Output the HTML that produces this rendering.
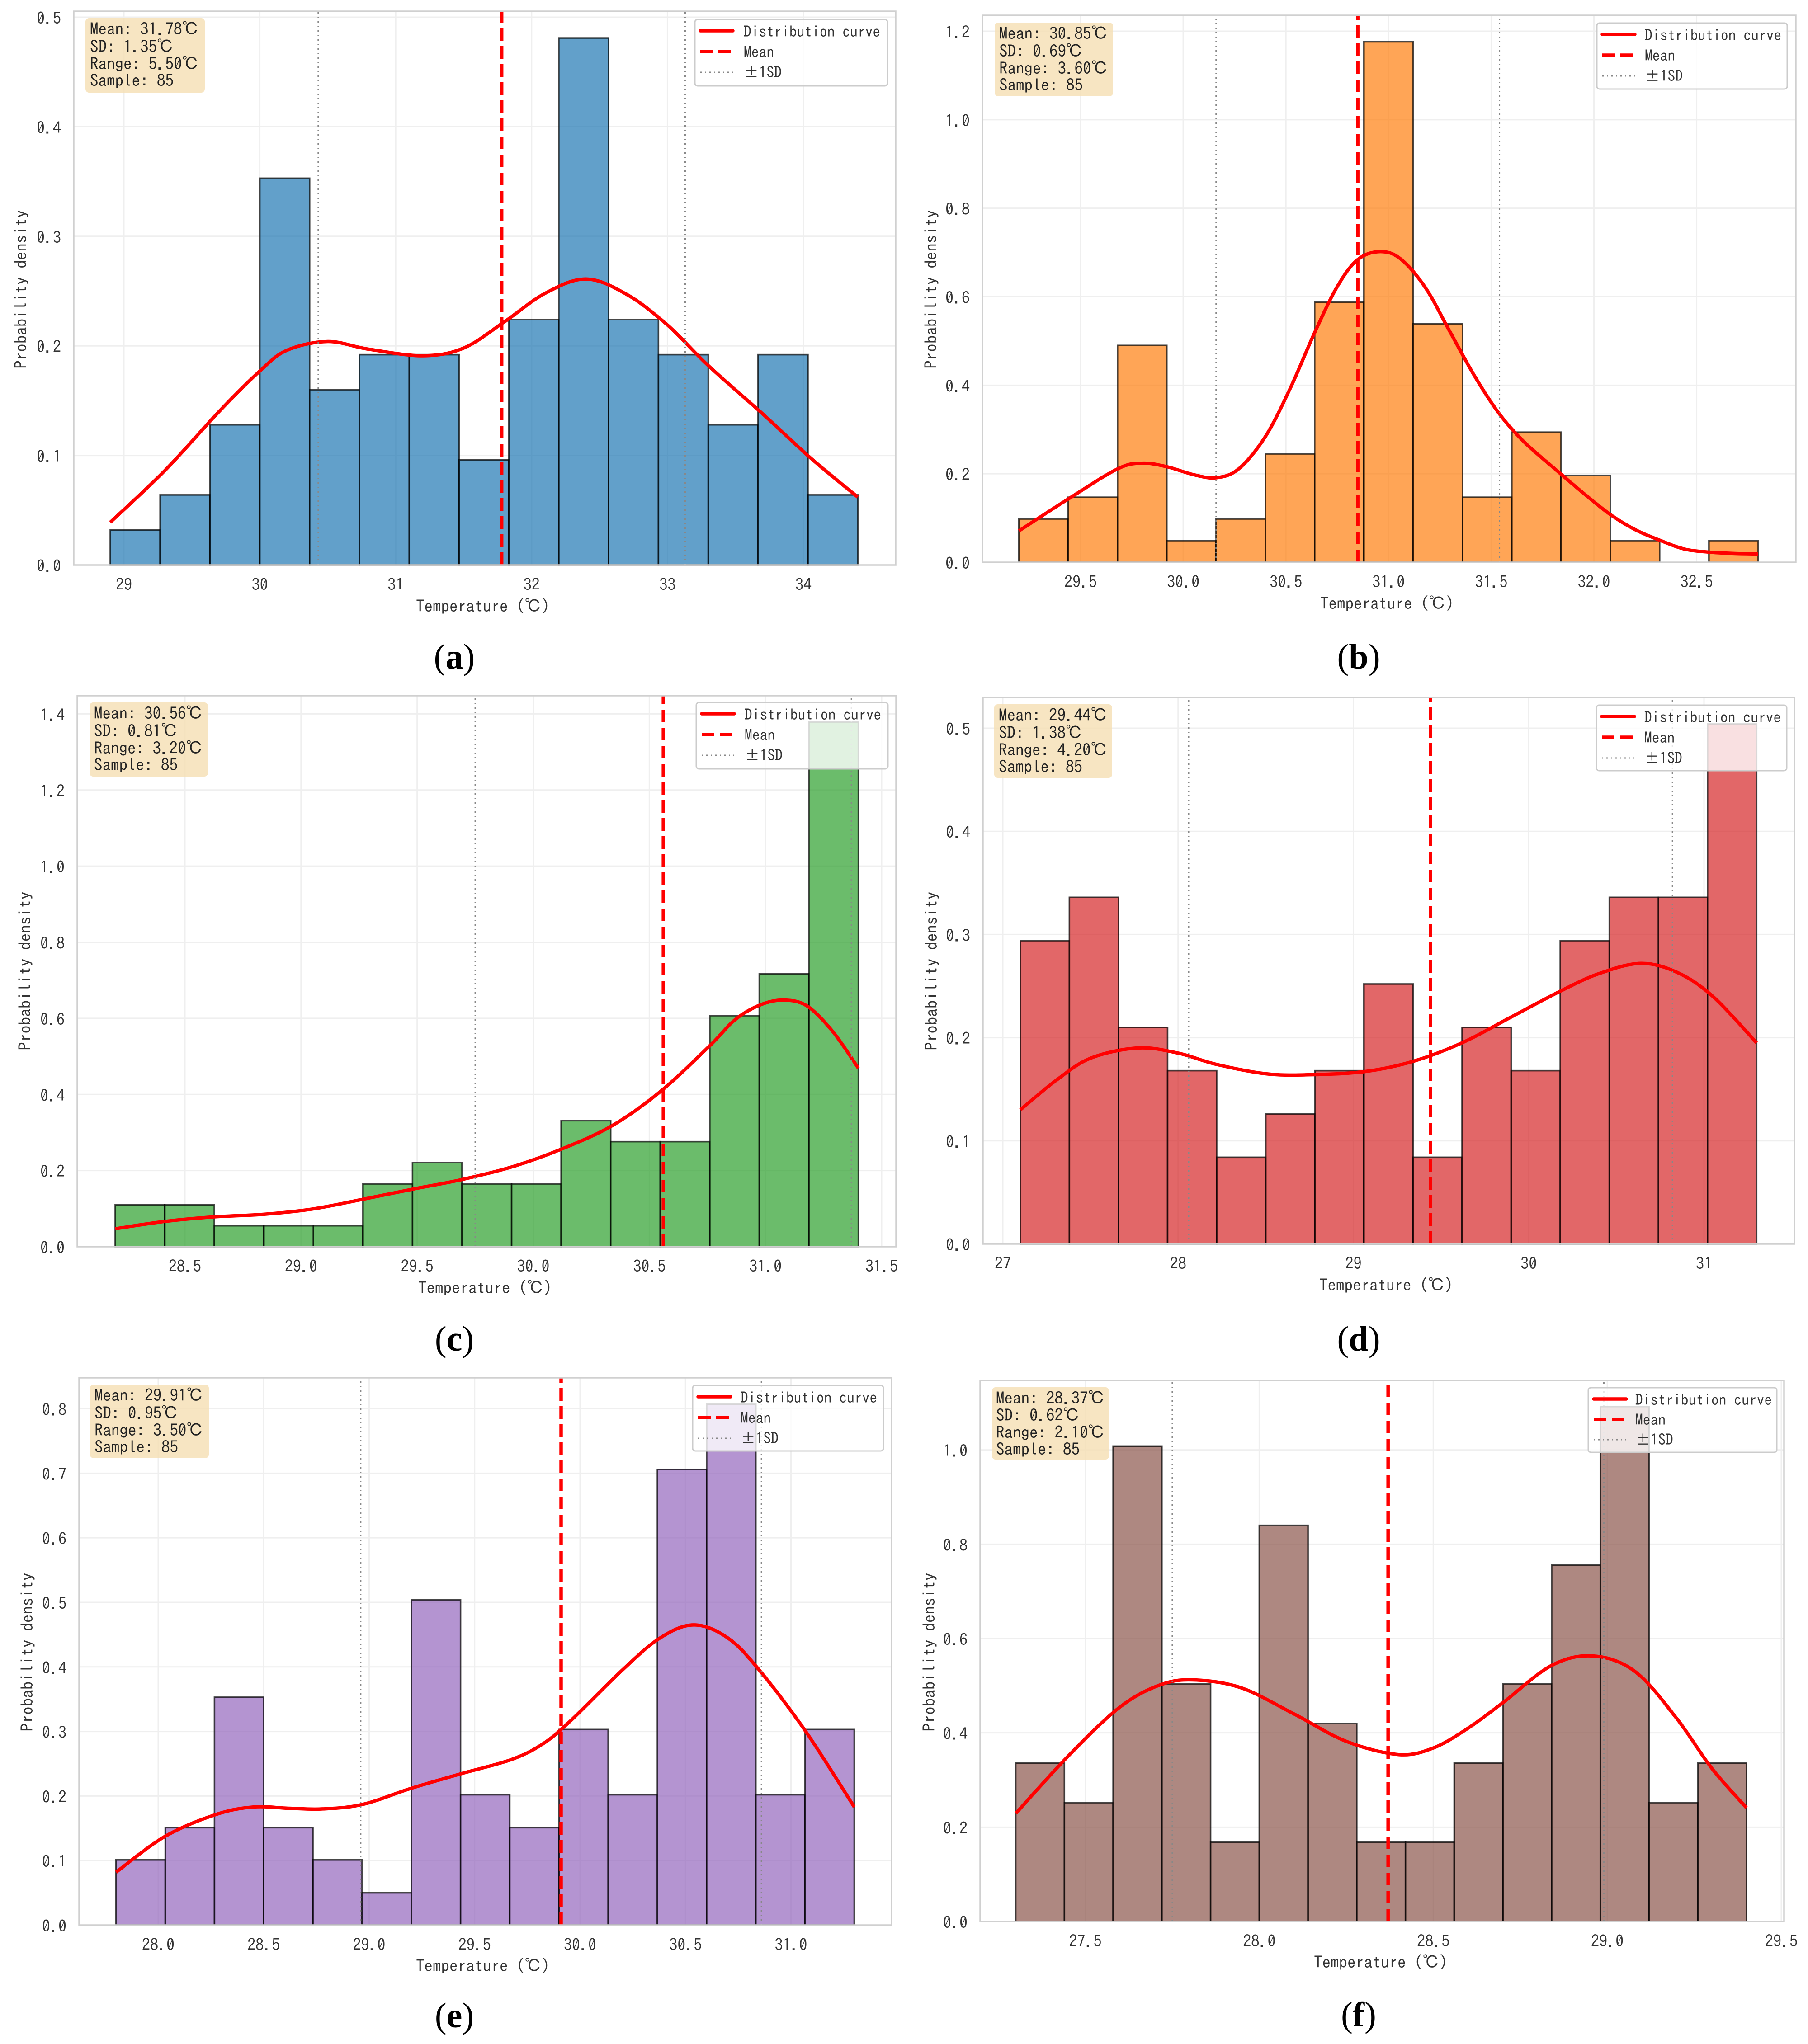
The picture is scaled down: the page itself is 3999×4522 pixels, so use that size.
<!DOCTYPE html>
<html lang="en">
<head>
<meta charset="utf-8">
<title>Temperature distribution histograms</title>
<style>
html,body{margin:0;padding:0;background:#fff}
svg{display:block}
text{font-family:"IPAGothic","Liberation Mono","Noto Sans CJK JP",sans-serif;fill:#333}
.lbl{font-size:36px}
.ylab{font-size:37px;text-anchor:middle}
.xlab{font-size:37px;text-anchor:middle}
.info text{font-size:37px;fill:#222}
.legend text{font-size:33.6px}
.cap{font-family:"Liberation Serif",serif;font-size:78px;fill:#000;text-anchor:middle}
.cap tspan{font-weight:bold}
</style>
</head>
<body>
<svg id="figure" xmlns="http://www.w3.org/2000/svg" width="3999" height="4522" viewBox="0 0 3999 4522">
<rect x="0" y="0" width="3999" height="4522" fill="#fff"/>

<g id="panel-a">
<g id="marks-a"></g>
<text class="xlab" x="1068" y="1354">Temperature (℃)</text>
<text class="ylab" transform="translate(59,640) rotate(-90)">Probability density</text>
<g class="info" transform="translate(189,40)">
<rect width="264" height="165" rx="8" fill="#f5deb3" fill-opacity="0.8"/>
<text x="10" y="37">Mean: 31.78℃</text>
<text x="10" y="76">SD: 1.35℃</text>
<text x="10" y="114">Range: 5.50℃</text>
<text x="10" y="151">Sample: 85</text>
</g>
<g class="legend" transform="translate(1537,43)">
<rect width="426" height="147" rx="6" fill="#fff" fill-opacity="0.8" stroke="#ccc" stroke-width="3"/>
<line x1="12" x2="84" y1="25" y2="25" stroke="#f00" stroke-width="7.5" stroke-linecap="round"/>
<text x="108" y="39">Distribution curve</text>
<line x1="12" x2="84" y1="71" y2="71" stroke="#f00" stroke-width="7.5" stroke-dasharray="28 12"/>
<text x="108" y="84">Mean</text>
<line x1="12" x2="84" y1="117" y2="117" stroke="#888" stroke-width="3" stroke-dasharray="3 7"/>
<text x="108" y="129">±1SD</text>
</g>
<text class="cap" x="1005" y="1479">(<tspan>a</tspan>)</text>
</g>

<g id="panel-b">
<g id="marks-b"></g>
<text class="xlab" x="3068" y="1348">Temperature (℃)</text>
<text class="ylab" transform="translate(2072,640) rotate(-90)">Probability density</text>
<g class="info" transform="translate(2200,50)">
<rect width="262" height="163" rx="8" fill="#f5deb3" fill-opacity="0.8"/>
<text x="10" y="37">Mean: 30.85℃</text>
<text x="10" y="76">SD: 0.69℃</text>
<text x="10" y="114">Range: 3.60℃</text>
<text x="10" y="151">Sample: 85</text>
</g>
<g class="legend" transform="translate(3532,51)">
<rect width="421" height="146" rx="6" fill="#fff" fill-opacity="0.8" stroke="#ccc" stroke-width="3"/>
<line x1="12" x2="84" y1="25" y2="25" stroke="#f00" stroke-width="7.5" stroke-linecap="round"/>
<text x="106" y="39">Distribution curve</text>
<line x1="12" x2="84" y1="71" y2="71" stroke="#f00" stroke-width="7.5" stroke-dasharray="28 12"/>
<text x="106" y="84">Mean</text>
<line x1="12" x2="84" y1="117" y2="117" stroke="#888" stroke-width="3" stroke-dasharray="3 7"/>
<text x="106" y="129">±1SD</text>
</g>
<text class="cap" x="3005" y="1479">(<tspan>b</tspan>)</text>
</g>

<g id="panel-c">
<g id="marks-c"></g>
<text class="xlab" x="1073" y="2862">Temperature (℃)</text>
<text class="ylab" transform="translate(68,2148) rotate(-90)">Probability density</text>
<g class="info" transform="translate(198,1554)">
<rect width="262" height="164" rx="8" fill="#f5deb3" fill-opacity="0.8"/>
<text x="10" y="37">Mean: 30.56℃</text>
<text x="10" y="76">SD: 0.81℃</text>
<text x="10" y="114">Range: 3.20℃</text>
<text x="10" y="151">Sample: 85</text>
</g>
<g class="legend" transform="translate(1540,1554)">
<rect width="424" height="147" rx="6" fill="#fff" fill-opacity="0.8" stroke="#ccc" stroke-width="3"/>
<line x1="12" x2="84" y1="25" y2="25" stroke="#f00" stroke-width="7.5" stroke-linecap="round"/>
<text x="107" y="39">Distribution curve</text>
<line x1="12" x2="84" y1="71" y2="71" stroke="#f00" stroke-width="7.5" stroke-dasharray="28 12"/>
<text x="107" y="84">Mean</text>
<line x1="12" x2="84" y1="117" y2="117" stroke="#888" stroke-width="3" stroke-dasharray="3 7"/>
<text x="107" y="129">±1SD</text>
</g>
<text class="cap" x="1005" y="2988">(<tspan>c</tspan>)</text>
</g>

<g id="panel-d">
<g id="marks-d"></g>
<text class="xlab" x="3066" y="2856">Temperature (℃)</text>
<text class="ylab" transform="translate(2073,2148) rotate(-90)">Probability density</text>
<g class="info" transform="translate(2199,1558)">
<rect width="261" height="163" rx="8" fill="#f5deb3" fill-opacity="0.8"/>
<text x="10" y="37">Mean: 29.44℃</text>
<text x="10" y="76">SD: 1.38℃</text>
<text x="10" y="114">Range: 4.20℃</text>
<text x="10" y="151">Sample: 85</text>
</g>
<g class="legend" transform="translate(3531,1560)">
<rect width="421" height="145" rx="6" fill="#fff" fill-opacity="0.8" stroke="#ccc" stroke-width="3"/>
<line x1="12" x2="84" y1="25" y2="25" stroke="#f00" stroke-width="7.5" stroke-linecap="round"/>
<text x="106" y="39">Distribution curve</text>
<line x1="12" x2="84" y1="71" y2="71" stroke="#f00" stroke-width="7.5" stroke-dasharray="28 12"/>
<text x="106" y="84">Mean</text>
<line x1="12" x2="84" y1="117" y2="117" stroke="#888" stroke-width="3" stroke-dasharray="3 7"/>
<text x="106" y="129">±1SD</text>
</g>
<text class="cap" x="3005" y="2988">(<tspan>d</tspan>)</text>
</g>

<g id="panel-e">
<g id="marks-e"></g>
<text class="xlab" x="1068" y="4362">Temperature (℃)</text>
<text class="ylab" transform="translate(73,3655) rotate(-90)">Probability density</text>
<g class="info" transform="translate(199,3063)">
<rect width="263" height="163" rx="8" fill="#f5deb3" fill-opacity="0.8"/>
<text x="10" y="37">Mean: 29.91℃</text>
<text x="10" y="76">SD: 0.95℃</text>
<text x="10" y="114">Range: 3.50℃</text>
<text x="10" y="151">Sample: 85</text>
</g>
<g class="legend" transform="translate(1532,3065)">
<rect width="422" height="145" rx="6" fill="#fff" fill-opacity="0.8" stroke="#ccc" stroke-width="3"/>
<line x1="12" x2="84" y1="25" y2="25" stroke="#f00" stroke-width="7.5" stroke-linecap="round"/>
<text x="106" y="39">Distribution curve</text>
<line x1="12" x2="84" y1="71" y2="71" stroke="#f00" stroke-width="7.5" stroke-dasharray="28 12"/>
<text x="106" y="84">Mean</text>
<line x1="12" x2="84" y1="117" y2="117" stroke="#888" stroke-width="3" stroke-dasharray="3 7"/>
<text x="106" y="129">±1SD</text>
</g>
<text class="cap" x="1005" y="4485">(<tspan>e</tspan>)</text>
</g>

<g id="panel-f">
<g id="marks-f"></g>
<text class="xlab" x="3054" y="4354">Temperature (℃)</text>
<text class="ylab" transform="translate(2068,3655) rotate(-90)">Probability density</text>
<g class="info" transform="translate(2194,3069)">
<rect width="259" height="160" rx="8" fill="#f5deb3" fill-opacity="0.8"/>
<text x="9" y="37">Mean: 28.37℃</text>
<text x="9" y="75">SD: 0.62℃</text>
<text x="9" y="113">Range: 2.10℃</text>
<text x="9" y="150">Sample: 85</text>
</g>
<g class="legend" transform="translate(3513,3070)">
<rect width="417" height="143" rx="6" fill="#fff" fill-opacity="0.8" stroke="#ccc" stroke-width="3"/>
<line x1="12" x2="84" y1="25" y2="25" stroke="#f00" stroke-width="7.5" stroke-linecap="round"/>
<text x="104" y="39">Distribution curve</text>
<line x1="12" x2="84" y1="70" y2="70" stroke="#f00" stroke-width="7.5" stroke-dasharray="28 12"/>
<text x="104" y="83">Mean</text>
<line x1="12" x2="84" y1="115" y2="115" stroke="#888" stroke-width="3" stroke-dasharray="3 7"/>
<text x="104" y="127">±1SD</text>
</g>
<text class="cap" x="3005" y="4483">(<tspan>f</tspan>)</text>
</g>
</svg>

<script>
// ---- Panel (a) data ----
const rangeA = [28.9, 34.4];
const densityA = [0.032,0.064,0.128,0.353,0.160,0.192,0.192,0.096,0.224,0.481,0.224,0.192,0.128,0.192,0.064];
const curveXA = [28.9,29.3,29.7,30.0,30.2,30.5,30.8,31.2,31.5,31.8,32.1,32.4,32.7,33.0,33.3,33.7,34.05,34.4];
const curveYA = [0.039,0.086,0.140,0.177,0.196,0.204,0.197,0.191,0.198,0.222,0.248,0.261,0.247,0.219,0.182,0.138,0.098,0.062];
const xTicksA = ["29","30","31","32","33","34"];
const yTicksA = ["0.0","0.1","0.2","0.3","0.4","0.5"];
const meanA = 31.78;
const sdA = 1.35;

// ---- Panel (b) data ----
const rangeB = [29.2, 32.8];
const densityB = [0.098,0.147,0.490,0.049,0.098,0.245,0.588,1.176,0.539,0.147,0.294,0.196,0.049,0,0.049];
const curveXB = [29.2,29.44,29.68,29.8,29.92,30.05,30.16,30.27,30.4,30.52,30.64,30.75,30.85,30.96,31.06,31.18,31.3,31.42,31.54,31.66,31.8,31.96,32.08,32.2,32.32,32.44,32.56,32.68,32.8];
const curveYB = [0.071,0.143,0.211,0.224,0.216,0.198,0.191,0.211,0.284,0.392,0.519,0.623,0.684,0.702,0.685,0.620,0.520,0.420,0.335,0.272,0.215,0.152,0.108,0.074,0.050,0.030,0.023,0.020,0.019];
const xTicksB = ["29.5","30.0","30.5","31.0","31.5","32.0","32.5"];
const yTicksB = ["0.0","0.2","0.4","0.6","0.8","1.0","1.2"];
const meanB = 30.85;
const sdB = 0.69;

// ---- Panel (c) data ----
const rangeC = [28.2, 31.4];
const densityC = [0.110,0.110,0.055,0.055,0.055,0.165,0.221,0.165,0.165,0.331,0.276,0.276,0.607,0.717,1.379];
const curveXC = [28.2,28.41,28.62,28.84,29.05,29.27,29.48,29.69,29.91,30.12,30.34,30.55,30.76,30.87,30.98,31.08,31.18,31.29,31.4];
const curveYC = [0.047,0.066,0.078,0.085,0.099,0.125,0.151,0.176,0.210,0.256,0.318,0.409,0.528,0.597,0.636,0.648,0.632,0.565,0.469];
const xTicksC = ["28.5","29.0","29.5","30.0","30.5","31.0","31.5"];
const yTicksC = ["0.0","0.2","0.4","0.6","0.8","1.0","1.2","1.4"];
const meanC = 30.56;
const sdC = 0.81;

// ---- Panel (d) data ----
const rangeD = [27.1, 31.3];
const densityD = [0.294,0.336,0.210,0.168,0.084,0.126,0.168,0.252,0.084,0.210,0.168,0.294,0.336,0.336,0.504];
const curveXD = [27.1,27.3,27.5,27.77,28.0,28.22,28.5,28.74,29.06,29.34,29.62,29.9,30.18,30.4,30.64,30.85,31.05,31.3];
const curveYD = [0.130,0.158,0.180,0.190,0.185,0.174,0.165,0.164,0.167,0.177,0.195,0.220,0.245,0.262,0.272,0.263,0.240,0.195];
const xTicksD = ["27","28","29","30","31"];
const yTicksD = ["0.0","0.1","0.2","0.3","0.4","0.5"];
const meanD = 29.44;
const sdD = 1.38;

// ---- Panel (e) data ----
const rangeE = [27.8, 31.3];
const densityE = [0.101,0.151,0.353,0.151,0.101,0.050,0.504,0.202,0.151,0.303,0.202,0.706,0.807,0.202,0.303];
const curveXE = [27.8,28.03,28.27,28.45,28.62,28.78,28.97,29.2,29.43,29.67,29.82,29.95,30.2,30.38,30.54,30.7,30.85,31.07,31.3];
const curveYE = [0.082,0.137,0.171,0.183,0.181,0.180,0.187,0.212,0.234,0.256,0.280,0.315,0.395,0.445,0.465,0.445,0.395,0.300,0.183];
const xTicksE = ["28.0","28.5","29.0","29.5","30.0","30.5","31.0"];
const yTicksE = ["0.0","0.1","0.2","0.3","0.4","0.5","0.6","0.7","0.8"];
const meanE = 29.91;
const sdE = 0.95;

// ---- Panel (f) data ----
const rangeF = [27.3, 29.4];
const densityF = [0.336,0.252,1.008,0.504,0.168,0.840,0.420,0.168,0.168,0.336,0.504,0.756,1.092,0.252,0.336];
const curveXF = [27.3,27.45,27.6,27.72,27.82,27.95,28.1,28.25,28.4,28.5,28.6,28.7,28.84,28.96,29.08,29.2,29.3,29.4];
const curveYF = [0.229,0.350,0.455,0.503,0.512,0.495,0.440,0.382,0.354,0.368,0.410,0.464,0.543,0.563,0.530,0.430,0.325,0.241];
const xTicksF = ["27.5","28.0","28.5","29.0","29.5"];
const yTicksF = ["0.0","0.2","0.4","0.6","0.8","1.0"];
const meanF = 28.37;
const sdF = 0.62;

const SVG_NS = "http://www.w3.org/2000/svg";

function make(tag, parent) {
  const el = document.createElementNS(SVG_NS, tag);
  parent.appendChild(el);
  return el;
}

function linearScale(v0, p0, v1, p1) {
  const k = (p1 - p0) / (v1 - v0);
  return function (v) { return p0 + (v - v0) * k; };
}

function smoothPath(px, py) {
  let d = "M" + px[0].toFixed(1) + " " + py[0].toFixed(1);
  for (let i = 0; i < px.length - 1; i++) {
    const a = Math.max(i - 1, 0), b = Math.min(i + 2, px.length - 1);
    const c1x = px[i] + (px[i + 1] - px[a]) / 6, c1y = py[i] + (py[i + 1] - py[a]) / 6;
    const c2x = px[i + 1] - (px[b] - px[i]) / 6, c2y = py[i + 1] - (py[b] - py[i]) / 6;
    d += "C" + c1x.toFixed(1) + " " + c1y.toFixed(1) + " " + c2x.toFixed(1) + " " + c2y.toFixed(1) + " " + px[i + 1].toFixed(1) + " " + py[i + 1].toFixed(1);
  }
  return d;
}

function vLine(parent, px, box, stroke, width, dash) {
  const el = make("line", parent);
  el.setAttribute("x1", px);
  el.setAttribute("x2", px);
  el.setAttribute("y1", box.b);
  el.setAttribute("y2", box.t);
  el.setAttribute("stroke", stroke);
  el.setAttribute("stroke-width", width);
  if (dash) el.setAttribute("stroke-dasharray", dash);
  return el;
}

function drawPanel(id, box, range, density, curveX, curveY, xTicks, yTicks, mean, sd, color) {
  const g = document.getElementById("marks-" + id);
  const X = linearScale(box.xv0, box.xp0, box.xv1, box.xp1);
  const Y = linearScale(0, box.b, box.yv1, box.yp1);

  xTicks.forEach(function (label) {
    const gl = make("line", g);
    
    
    const px = X(parseFloat(label));
    gl.setAttribute("x1", px);
    gl.setAttribute("x2", px);
    gl.setAttribute("y1", box.t);
    gl.setAttribute("y2", box.b);
    gl.setAttribute("stroke", "#efefef");
    gl.setAttribute("stroke-width", 3);
    const tx = make("text", g);
    
    
    tx.setAttribute("class", "lbl");
    tx.setAttribute("text-anchor", "middle");
    tx.setAttribute("x", px);
    tx.setAttribute("y", box.b + 56);
    tx.textContent = label;
  });

  yTicks.forEach(function (label) {
    const gl = make("line", g);
    
    
    const py = Y(parseFloat(label));
    gl.setAttribute("x1", box.l);
    gl.setAttribute("x2", box.r);
    gl.setAttribute("y1", py);
    gl.setAttribute("y2", py);
    gl.setAttribute("stroke", "#efefef");
    gl.setAttribute("stroke-width", 3);
    const tx = make("text", g);
    
    
    tx.setAttribute("class", "lbl");
    tx.setAttribute("text-anchor", "end");
    tx.setAttribute("x", box.l - 28);
    tx.setAttribute("y", py + 15);
    tx.textContent = label;
  });

  const binWidth = (range[1] - range[0]) / density.length;
  density.forEach(function (value, i) {
    if (value <= 0) return;
    const bar = make("rect", g);
    
    
    const x0 = X(range[0] + i * binWidth), x1 = X(range[0] + (i + 1) * binWidth), y = Y(value);
    bar.setAttribute("x", x0);
    bar.setAttribute("y", y);
    bar.setAttribute("width", x1 - x0);
    bar.setAttribute("height", box.b - y);
    bar.setAttribute("fill", color);
    bar.setAttribute("fill-opacity", 0.7);
    bar.setAttribute("stroke", "#000");
    bar.setAttribute("stroke-opacity", 0.72);
    bar.setAttribute("stroke-width", 3.5);
  });

  const curve = make("path", g);
  
  
  curve.setAttribute("d", smoothPath(curveX.map(X), curveY.map(Y)));
  curve.setAttribute("fill", "none");
  curve.setAttribute("stroke", "#f00");
  curve.setAttribute("stroke-width", 7.5);

  const meanLine = vLine(g, X(mean), box, "#f00", 7.5, "28 12");
  
  

  const sdLow = vLine(g, X(mean - sd), box, "#888", 3, "3 7");
  
  

  const sdHigh = vLine(g, X(mean + sd), box, "#888", 3, "3 7");
  
  

  const frame = make("rect", g);
  
  
  frame.setAttribute("x", box.l);
  frame.setAttribute("y", box.t);
  frame.setAttribute("width", box.r - box.l);
  frame.setAttribute("height", box.b - box.t);
  frame.setAttribute("fill", "none");
  frame.setAttribute("stroke", "#d0d0d0");
  frame.setAttribute("stroke-width", 3.5);
}

drawPanel("a", {l:163,r:1981,t:25,b:1250,xv0:29,xp0:274,xv1:34,xp1:1777,yv1:0.5,yp1:38},
  rangeA, densityA, curveXA, curveYA, xTicksA, yTicksA, meanA, sdA, "#1f77b4");
drawPanel("b", {l:2173,r:3972,t:34,b:1244,xv0:29.5,xp0:2390,xv1:32.5,xp1:3752.6,yv1:1.2,yp1:69},
  rangeB, densityB, curveXB, curveYB, xTicksB, yTicksB, meanB, sdB, "#ff7f0e");
drawPanel("c", {l:171,r:1982,t:1539,b:2758,xv0:28.5,xp0:409,xv1:31.5,xp1:1950,yv1:1.4,yp1:1579.4},
  rangeC, densityC, curveXC, curveYC, xTicksC, yTicksC, meanC, sdC, "#2ca02c");
drawPanel("d", {l:2174,r:3969,t:1543,b:2752,xv0:27,xp0:2218,xv1:31,xp1:3769,yv1:0.5,yp1:1611},
  rangeD, densityD, curveXD, curveYD, xTicksD, yTicksD, meanD, sdD, "#d62728");
drawPanel("e", {l:175,r:1972,t:3048,b:4259,xv0:28,xp0:350,xv1:31,xp1:1749.5,yv1:0.8,yp1:3116.5},
  rangeE, densityE, curveXE, curveYE, xTicksE, yTicksE, meanE, sdE, "#9467bd");
drawPanel("f", {l:2168,r:3946,t:3054,b:4251,xv0:27.5,xp0:2400.5,xv1:29.5,xp1:3940,yv1:1.0,yp1:3207.7},
  rangeF, densityF, curveXF, curveYF, xTicksF, yTicksF, meanF, sdF, "#8c564b");
</script>
</body>
</html>
